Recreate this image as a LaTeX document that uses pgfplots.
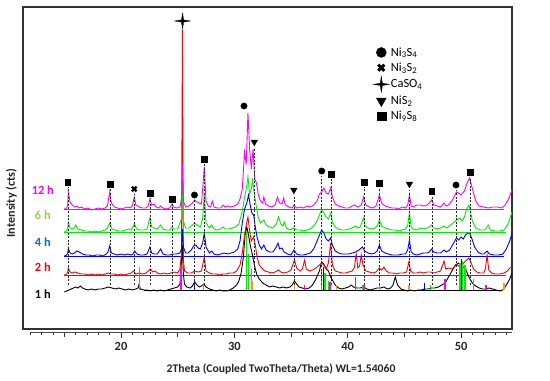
\documentclass[border=0pt]{standalone}
\usepackage{pgfplots}
\pgfplotsset{compat=1.18}
\usepackage{fontspec}
\setmainfont{Carlito}
\definecolor{cmag}{HTML}{FF00FF}
\definecolor{cgreen}{HTML}{00EE00}
\definecolor{cblue}{HTML}{0000FF}
\definecolor{cred}{HTML}{FF0000}
\definecolor{corange}{HTML}{FF9900}
\definecolor{lab6}{HTML}{92D050}
\definecolor{lab4}{HTML}{0070C0}
\definecolor{lab12}{HTML}{FF00FF}
\pgfdeclareplotmark{fourstar}{%
  \pgfpathmoveto{\pgfqpoint{0pt}{\pgfplotmarksize}}%
  \pgfpathlineto{\pgfqpoint{0.14\pgfplotmarksize}{0.14\pgfplotmarksize}}%
  \pgfpathlineto{\pgfqpoint{\pgfplotmarksize}{0pt}}%
  \pgfpathlineto{\pgfqpoint{0.14\pgfplotmarksize}{-0.14\pgfplotmarksize}}%
  \pgfpathlineto{\pgfqpoint{0pt}{-\pgfplotmarksize}}%
  \pgfpathlineto{\pgfqpoint{-0.14\pgfplotmarksize}{-0.14\pgfplotmarksize}}%
  \pgfpathlineto{\pgfqpoint{-\pgfplotmarksize}{0pt}}%
  \pgfpathlineto{\pgfqpoint{-0.14\pgfplotmarksize}{0.14\pgfplotmarksize}}%
  \pgfpathclose
  \pgfusepathqfillstroke}
\begin{document}
\begin{tikzpicture}
\path[use as bounding box] (-23bp,-52bp) rectangle (527bp,329bp);
% tick axis
\begin{axis}[
  at={(7.37bp,-3.5bp)}, anchor=origin,
  scale only axis, width=481.7bp, height=322bp,
  xmin=12, xmax=54.5, ymin=0, ymax=322,
  axis x line*=bottom, axis y line=none,
  every outer x axis line/.append style={-, color=black!70, line width=0.6bp},
  xtick={20,30,40,50},
  minor xtick={12,13,14,16,17,18,19,21,22,23,24,26,27,28,29,31,32,33,34,36,37,38,39,41,42,43,44,46,47,48,49,51,52,53,54},
  extra x ticks={15,25,35,45}, extra x tick labels={},
  extra x tick style={major tick length=4bp},
  tick align=outside, major tick length=5.5bp, minor tick length=2.5bp,
  tick style={color=black!80, line width=0.6bp},
  /pgf/number format/assume math mode=true,
  tick label style={font=\fontsize{12.5}{13}\selectfont\bfseries, color=black!85},
  xticklabel style={yshift=-0.5bp},
]
\end{axis}
% main axis
\begin{axis}[
  at={(0,0)}, anchor=origin,
  scale only axis, width=489bp, height=322bp,
  xmin=11.35, xmax=54.5, ymin=0, ymax=322,
  xtick=\empty, ytick=\empty,
  axis line style={line width=1.1bp, color=black!80},
  clip=false,
  unbounded coords=jump,
  legend cell align=left,
  legend style={at={(0.716,0.88)}, anchor=north west, draw=none, fill=none,
    font=\fontsize{12.5}{13}\selectfont, row sep=2bp, inner sep=0pt,
    nodes={inner sep=1.6bp}},
]
% baselines
\addplot[cmag, line width=0.8bp, forget plot] coordinates {(15,120)(53.8,120)};
\addplot[cgreen, line width=0.8bp, forget plot] coordinates {(15,97)(54.0,97)};
\addplot[cblue, line width=0.8bp, forget plot] coordinates {(15,73)(53.8,73)};
\addplot[cred, line width=0.8bp, forget plot] coordinates {(15,54)(54.0,54)};
\addplot[black, line width=0.8bp, forget plot] coordinates {(22,39)(53.5,39)};
% 1 h
\addplot[black, line width=0.9bp, forget plot] coordinates {
(15.0,37)(15.2,38)(15.4,39)(15.6,40)(15.8,41)(16.0,42)(16.2,41)(16.4,43)(16.6,41)(16.8,40)(17.1,39)(17.4,40)(17.7,39)(18.0,40)(18.3,40)(18.6,41)(18.9,42)(19.2,41)(19.5,40)(19.8,41)(20.1,40)(20.4,39)(20.7,40)(21.0,39)(21.3,40)(21.5,41)(21.6,45)(21.7,40)(22.0,39)(22.3,39)(22.6,38)(22.9,39)(23.2,38)(23.5,39)(23.8,38)(24.1,39)(24.4,40)(24.7,41)(25.0,42)(25.2,45)(25.3,60)(25.4,85)(25.5,55)(25.6,45)(25.8,42)(26.1,41)(26.3,43)(26.5,47)(26.7,44)(26.9,42)(27.1,43)(27.3,45)(27.5,42)(27.8,40)(28.1,39)(28.4,38)(28.7,39)(29.0,38)(29.3,38)(29.6,39)(29.9,41)(30.2,44)(30.4,48)(30.6,56)(30.8,72)(30.95,95)(31.1,102)(31.25,94)(31.4,84)(31.6,74)(31.8,62)(32.0,54)(32.2,50)(32.5,46)(32.8,44)(33.1,42)(33.4,43)(33.7,42)(34.0,41)(34.3,42)(34.6,41)(34.9,42)(35.1,44)(35.3,48)(35.5,45)(35.7,42)(36.0,41)(36.3,40)(36.6,41)(36.9,44)(37.2,50)(37.5,58)(37.7,67)(37.9,65)(38.1,60)(38.3,58)(38.5,52)(38.7,48)(38.9,44)(39.2,41)(39.5,40)(39.8,41)(40.1,42)(40.3,44)(40.5,42)(40.8,41)(41.1,41)(41.4,42)(41.7,40)(42.0,39)(42.3,40)(42.6,41)(42.9,41)(43.2,42)(43.5,40)(43.8,41)(44.0,44)(44.2,52)(44.4,44)(44.7,40)(45.0,39)(45.3,38)(45.6,39)(45.9,38)(46.2,39)(46.5,39)(46.8,40)(47.1,40)(47.4,41)(47.7,41)(48.0,42)(48.3,44)(48.6,46)(48.9,52)(49.2,58)(49.5,64)(49.8,66)(50.1,63)(50.4,60)(50.7,52)(51.0,46)(51.3,43)(51.6,41)(51.9,40)(52.2,40)(52.5,41)(52.8,40)(53.1,39)(53.4,38)(53.7,39)(54.0,44)(54.3,50)(54.5,56)};
% 2 h
\addplot[cred, line width=0.9bp, forget plot] coordinates {
(15.0,54)(15.2,55)(15.3,57)(15.35,61)(15.5,57)(15.7,56)(15.9,57)(16.2,56)(16.5,55)(16.8,55)(17.1,54)(17.4,55)(17.7,54)(18.0,55)(18.3,54)(18.6,55)(18.9,56)(19.1,55)(19.4,55)(19.7,54)(20.0,55)(20.3,54)(20.6,55)(20.9,56)(21.1,58)(21.3,55)(21.6,56)(21.9,55)(22.2,56)(22.4,58)(22.6,60)(22.8,57)(23.0,58)(23.2,56)(23.5,55)(23.8,56)(24.1,55)(24.4,56)(24.7,57)(25.0,56)(25.2,60)(25.33,75)(25.42,299)(25.5,70)(25.6,58)(25.9,56)(26.2,56)(26.5,58)(26.8,57)(27.1,58)(27.35,72)(27.5,58)(27.8,56)(28.1,55)(28.4,55)(28.7,54)(29.0,55)(29.3,55)(29.6,56)(29.9,56)(30.2,58)(30.5,64)(30.7,76)(30.9,94)(31.05,104)(31.2,112)(31.35,98)(31.5,88)(31.7,92)(31.85,84)(32.0,72)(32.2,64)(32.5,60)(32.7,58)(33.0,57)(33.3,56)(33.6,57)(33.9,59)(34.1,57)(34.4,56)(34.7,57)(35.0,59)(35.3,69)(35.5,61)(35.8,58)(36.0,60)(36.2,69)(36.35,60)(36.6,58)(36.9,59)(37.2,61)(37.5,64)(37.7,66)(37.9,64)(38.1,60)(38.3,66)(38.5,86)(38.65,64)(38.9,58)(39.2,57)(39.5,56)(39.8,56)(40.1,57)(40.4,58)(40.6,62)(40.75,75)(40.9,61)(41.05,63)(41.2,74)(41.35,64)(41.6,58)(41.9,57)(42.2,56)(42.5,57)(42.8,61)(43.0,59)(43.2,62)(43.4,58)(43.7,56)(44.0,56)(44.3,55)(44.6,56)(44.9,56)(45.2,57)(45.4,67)(45.55,58)(45.8,56)(46.1,56)(46.4,57)(46.7,56)(47.0,57)(47.3,57)(47.6,56)(47.9,57)(48.2,58)(48.5,68)(48.65,60)(48.9,61)(49.2,60)(49.5,63)(49.7,64)(49.9,62)(50.1,64)(50.4,68)(50.7,71)(50.9,66)(51.1,60)(51.4,57)(51.7,56)(52.0,56)(52.15,60)(52.3,74)(52.45,59)(52.7,56)(53.0,55)(53.4,55)(53.8,56)(54.1,58)(54.3,61)(54.5,62)};
% 4 h
\addplot[cblue, line width=0.9bp, forget plot] coordinates {
(15.0,73)(15.2,74)(15.3,76)(15.35,81)(15.5,76)(15.7,75)(15.9,76)(16.1,78)(16.3,77)(16.6,75)(16.9,74)(17.2,74)(17.5,73)(17.8,74)(18.1,74)(18.4,73)(18.7,75)(18.85,77)(19.0,83)(19.15,76)(19.4,75)(19.7,74)(20.0,75)(20.3,74)(20.6,75)(20.9,74)(21.05,75)(21.2,78)(21.4,75)(21.7,74)(22.0,74)(22.3,75)(22.55,82)(22.7,76)(22.9,75)(23.2,75)(23.5,80)(23.7,75)(24.0,74)(24.3,74)(24.6,75)(24.9,75)(25.2,76)(25.33,80)(25.42,100)(25.5,82)(25.7,76)(25.9,76)(26.2,79)(26.4,83)(26.6,84)(26.8,81)(27.0,80)(27.2,86)(27.35,96)(27.5,82)(27.8,76)(28.0,78)(28.2,75)(28.5,74)(28.8,75)(29.1,76)(29.4,75)(29.7,76)(30.0,77)(30.3,80)(30.5,88)(30.7,106)(30.9,120)(31.1,126)(31.25,134)(31.4,124)(31.55,116)(31.7,114)(31.85,102)(32.0,92)(32.2,84)(32.4,80)(32.6,84)(32.8,79)(33.1,77)(33.4,77)(33.7,82)(33.85,86)(34.0,80)(34.2,81)(34.4,77)(34.7,75)(35.0,74)(35.25,79)(35.5,75)(35.8,74)(36.1,74)(36.4,75)(36.7,76)(37.0,80)(37.3,88)(37.55,95)(37.7,99)(37.9,96)(38.1,90)(38.3,88)(38.5,91)(38.65,84)(38.9,78)(39.2,76)(39.5,75)(39.8,75)(40.1,75)(40.4,76)(40.7,77)(41.0,79)(41.3,82)(41.5,78)(41.8,76)(42.1,75)(42.4,76)(42.6,78)(42.8,84)(43.0,78)(43.3,76)(43.6,75)(43.9,74)(44.2,74)(44.5,74)(44.8,75)(45.1,75)(45.3,79)(45.45,89)(45.6,77)(45.8,75)(46.1,74)(46.4,75)(46.7,76)(47.0,76)(47.2,77)(47.4,80)(47.6,77)(47.9,76)(48.2,76)(48.5,79)(48.7,77)(49.0,79)(49.3,85)(49.6,91)(49.8,89)(50.0,92)(50.2,90)(50.4,94)(50.6,96)(50.8,95)(51.0,89)(51.2,82)(51.5,77)(51.8,75)(52.0,75)(52.3,78)(52.5,75)(52.9,74)(53.3,74)(53.7,75)(54.0,80)(54.3,88)(54.5,96)};
% 6 h
\addplot[cgreen, line width=0.9bp, forget plot] coordinates {
(15.0,97)(15.2,98)(15.3,101)(15.35,107)(15.5,101)(15.7,100)(15.9,101)(16.0,104)(16.2,100)(16.5,99)(16.8,98)(17.1,98)(17.4,97)(17.7,98)(18.0,97)(18.3,98)(18.6,99)(18.8,101)(19.0,106)(19.2,100)(19.5,99)(19.8,98)(20.1,98)(20.4,99)(20.7,100)(20.9,99)(21.0,101)(21.17,105)(21.4,100)(21.7,99)(22.0,99)(22.3,100)(22.55,111)(22.7,102)(22.9,101)(23.2,100)(23.5,104)(23.7,100)(24.0,99)(24.3,99)(24.5,102)(24.7,100)(25.0,100)(25.33,110)(25.42,150)(25.5,108)(25.7,101)(26.0,101)(26.3,104)(26.5,106)(26.7,104)(27.0,102)(27.2,110)(27.35,136)(27.5,106)(27.8,101)(28.0,104)(28.2,100)(28.5,99)(28.8,100)(29.0,102)(29.2,100)(29.5,100)(29.8,101)(30.1,102)(30.4,105)(30.7,118)(30.9,132)(31.05,140)(31.2,152)(31.35,135)(31.5,140)(31.6,149)(31.75,136)(31.9,125)(32.1,112)(32.3,106)(32.6,109)(32.8,104)(33.1,102)(33.4,101)(33.7,105)(33.9,112)(34.1,105)(34.3,103)(34.4,107)(34.6,101)(34.9,99)(35.25,101)(35.5,99)(35.8,99)(36.1,98)(36.4,99)(36.7,100)(37.0,103)(37.3,108)(37.5,114)(37.7,119)(37.9,116)(38.1,112)(38.3,110)(38.5,116)(38.65,107)(38.9,102)(39.2,100)(39.5,99)(39.8,99)(40.1,100)(40.4,101)(40.7,103)(40.9,101)(41.1,102)(41.4,111)(41.55,103)(41.8,101)(42.1,100)(42.4,101)(42.6,103)(42.8,109)(43.0,103)(43.3,101)(43.6,100)(43.9,99)(44.2,99)(44.5,98)(44.8,99)(45.1,100)(45.3,104)(45.45,116)(45.6,102)(45.8,100)(46.1,99)(46.4,101)(46.7,100)(47.0,101)(47.2,102)(47.4,104)(47.6,101)(47.9,100)(48.2,101)(48.5,103)(48.7,101)(49.0,103)(49.3,106)(49.6,109)(49.9,111)(50.1,108)(50.3,112)(50.5,120)(50.7,124)(50.85,117)(51.0,108)(51.3,101)(51.7,99)(52.0,99)(52.2,100)(52.4,104)(52.6,99)(53.0,98)(53.4,98)(53.8,99)(54.1,104)(54.3,110)(54.5,117)};
% 12 h
\addplot[cmag, line width=0.9bp, forget plot] coordinates {
(15.0,120)(15.2,121)(15.3,124)(15.35,137)(15.5,127)(15.7,124)(15.9,122)(16.1,123)(16.3,121)(16.5,122)(16.8,120)(17.1,121)(17.4,119)(17.7,120)(18.0,121)(18.3,120)(18.6,121)(18.8,123)(19.0,137)(19.15,126)(19.4,122)(19.7,121)(20.0,120)(20.3,121)(20.6,122)(20.8,121)(21.0,123)(21.17,132)(21.3,124)(21.6,122)(21.9,121)(22.2,121)(22.4,123)(22.55,130)(22.7,124)(22.9,125)(23.1,122)(23.3,121)(23.5,123)(23.7,121)(24.0,120)(24.3,121)(24.5,125)(24.65,122)(24.9,121)(25.2,122)(25.33,130)(25.42,165)(25.5,128)(25.7,122)(26.0,123)(26.3,126)(26.5,129)(26.7,127)(26.9,126)(27.1,125)(27.35,162)(27.5,128)(27.7,123)(27.9,122)(28.05,128)(28.2,122)(28.5,121)(28.8,121)(29.0,124)(29.2,122)(29.4,123)(29.7,122)(30.0,123)(30.3,125)(30.5,130)(30.7,140)(30.9,177)(31.05,165)(31.2,216)(31.35,180)(31.5,160)(31.65,180)(31.8,150)(31.95,146)(32.1,135)(32.3,128)(32.5,126)(32.6,132)(32.75,125)(33.0,123)(33.3,122)(33.6,124)(33.8,132)(34.0,126)(34.2,125)(34.35,131)(34.5,124)(34.8,122)(35.1,121)(35.25,124)(35.5,121)(35.8,122)(36.1,121)(36.4,123)(36.7,122)(37.0,124)(37.3,128)(37.5,135)(37.7,137)(37.9,141)(38.1,136)(38.3,135)(38.5,141)(38.65,132)(38.9,125)(39.2,123)(39.5,122)(39.8,121)(40.1,121)(40.4,123)(40.6,124)(40.9,122)(41.2,124)(41.4,132)(41.6,124)(41.9,122)(42.2,121)(42.5,123)(42.8,134)(43.0,126)(43.3,123)(43.6,122)(43.9,121)(44.2,121)(44.5,120)(44.8,122)(45.1,121)(45.3,124)(45.45,134)(45.6,123)(45.8,122)(46.1,124)(46.4,124)(46.7,123)(47.0,124)(47.2,126)(47.4,129)(47.6,124)(47.9,123)(48.2,122)(48.5,126)(48.7,123)(49.0,125)(49.3,130)(49.6,137)(49.8,136)(50.0,134)(50.3,138)(50.5,145)(50.75,151)(50.9,145)(51.1,136)(51.3,128)(51.6,123)(52.0,122)(52.4,121)(52.8,122)(53.2,122)(53.6,121)(53.9,124)(54.2,130)(54.5,139)};
% reference sticks
\addplot[cgreen, line width=1.3bp, forget plot] coordinates {
(21.6,39)(21.6,62)(21.6,nan)(27.3,39)(27.3,46)(27.3,nan)(31.05,39)(31.05,98)(31.05,nan)(31.25,39)(31.25,75)(31.25,nan)(31.5,39)(31.5,60)(31.5,nan)(37.7,39)(37.7,58)(37.7,nan)(38.0,39)(38.0,56)(38.0,nan)(38.3,39)(38.3,48)(38.3,nan)(41.3,39)(41.3,44)(41.3,nan)(42.8,39)(42.8,45)(42.8,nan)(47.3,39)(47.3,44)(47.3,nan)(49.9,39)(49.9,66)(49.9,nan)(50.15,39)(50.15,68)(50.15,nan)(50.35,39)(50.35,64)(50.35,nan)(51.1,39)(51.1,50)};
\addplot[cblue, line width=1.3bp, forget plot] coordinates {
(26.5,39)(26.5,48)(26.5,nan)(37.85,39)(37.85,62)(37.85,nan)(46.8,39)(46.8,46)(46.8,nan)(50.05,39)(50.05,70)};
\addplot[cmag, line width=1.3bp, forget plot] coordinates {
(25.3,39)(25.3,60)(25.3,nan)(36.2,39)(36.2,44)(36.2,nan)(38.45,39)(38.45,47)(38.45,nan)(40.7,39)(40.7,52)(40.7,nan)(41.45,39)(41.45,44)(41.45,nan)(48.6,39)(48.6,50)(48.6,nan)(52.2,39)(52.2,44)};
\addplot[corange, line width=1.3bp, forget plot] coordinates {
(31.55,39)(31.55,48)(31.55,nan)(35.3,39)(35.3,44)(35.3,nan)(39.0,39)(39.0,44)(39.0,nan)(45.4,39)(45.4,44)(45.4,nan)(53.8,39)(53.8,46)};
% dashed guides
\addplot[black!85, line width=0.5bp, dash pattern=on 2bp off 1.6bp, forget plot] coordinates {
(15.3,44)(15.3,142)(15.3,nan)(19.03,44)(19.03,140)(19.03,nan)(21.17,44)(21.17,135)(21.17,nan)(22.55,44)(22.55,131)(22.55,nan)(24.5,44)(24.5,125)(24.5,nan)(26.48,44)(26.48,129)(26.48,nan)(27.36,44)(27.36,165)(27.36,nan)(31.76,52)(31.76,181)(31.76,nan)(35.25,44)(35.25,133)(35.25,nan)(37.71,44)(37.71,153)(37.71,nan)(38.53,44)(38.53,150)(38.53,nan)(41.44,44)(41.44,142)(41.44,nan)(42.79,44)(42.79,141)(42.79,nan)(45.45,44)(45.45,139)(45.45,nan)(47.42,44)(47.42,133)(47.42,nan)(49.56,44)(49.56,139)(49.56,nan)(50.82,44)(50.82,152)};
% phase markers
\addplot[only marks, mark=*, mark size=3.2bp, black, legend image post style={mark size=5bp}] coordinates {(26.48,134)(30.85,223)(37.71,158)(49.56,144)};
\addlegendentry{Ni\textsubscript{3}S\textsubscript{4}}
\addplot[only marks, mark=x, mark size=3.3bp, black, mark options={line width=2.2bp}, legend image post style={mark size=4.3bp, mark options={line width=3bp}}] coordinates {(21.17,140)};
\addlegendentry{Ni\textsubscript{3}S\textsubscript{2}}
\addplot[only marks, mark=fourstar, mark size=8bp, black, mark options={line width=0.3bp}] coordinates {(25.43,308)};
\addlegendentry{CaSO\textsubscript{4}}
\addplot[only marks, mark=triangle*, mark size=3.8bp, black, mark options={rotate=180}, legend image post style={mark size=5.6bp}] coordinates {(31.76,187)(35.25,139)(45.45,145)};
\addlegendentry{NiS\textsubscript{2}}
\addplot[only marks, mark=square*, mark size=2.9bp, black, legend image post style={mark size=4.4bp}] coordinates {(15.3,147)(19.03,145)(22.55,136)(24.5,130)(27.36,170)(38.53,155)(41.44,147)(42.79,146)(47.42,138)(50.82,157)};
\addlegendentry{Ni\textsubscript{9}S\textsubscript{8}}
% series labels
\node[font=\fontsize{12.5}{13}\selectfont\bfseries, text=lab12] at (axis cs:13.1,139) {12 h};
\node[font=\fontsize{12.5}{13}\selectfont\bfseries, text=lab6] at (axis cs:13.1,114) {6 h};
\node[font=\fontsize{12.5}{13}\selectfont\bfseries, text=lab4] at (axis cs:13.1,87) {4 h};
\node[font=\fontsize{12.5}{13}\selectfont\bfseries, text=cred] at (axis cs:13.1,62) {2 h};
\node[font=\fontsize{12.5}{13}\selectfont\bfseries, text=black] at (axis cs:13.1,35) {1 h};
% axis labels
\node[font=\fontsize{12.2}{13}\selectfont\bfseries, rotate=90, text=black!85] at (axis cs:10.32,126) {Intensity (cts)};
\node[font=\fontsize{11.7}{13}\selectfont\bfseries, text=black!85] at (axis cs:34.12,-40) {2Theta (Coupled TwoTheta/Theta) WL=1.54060};
\end{axis}
\end{tikzpicture}
\end{document}
